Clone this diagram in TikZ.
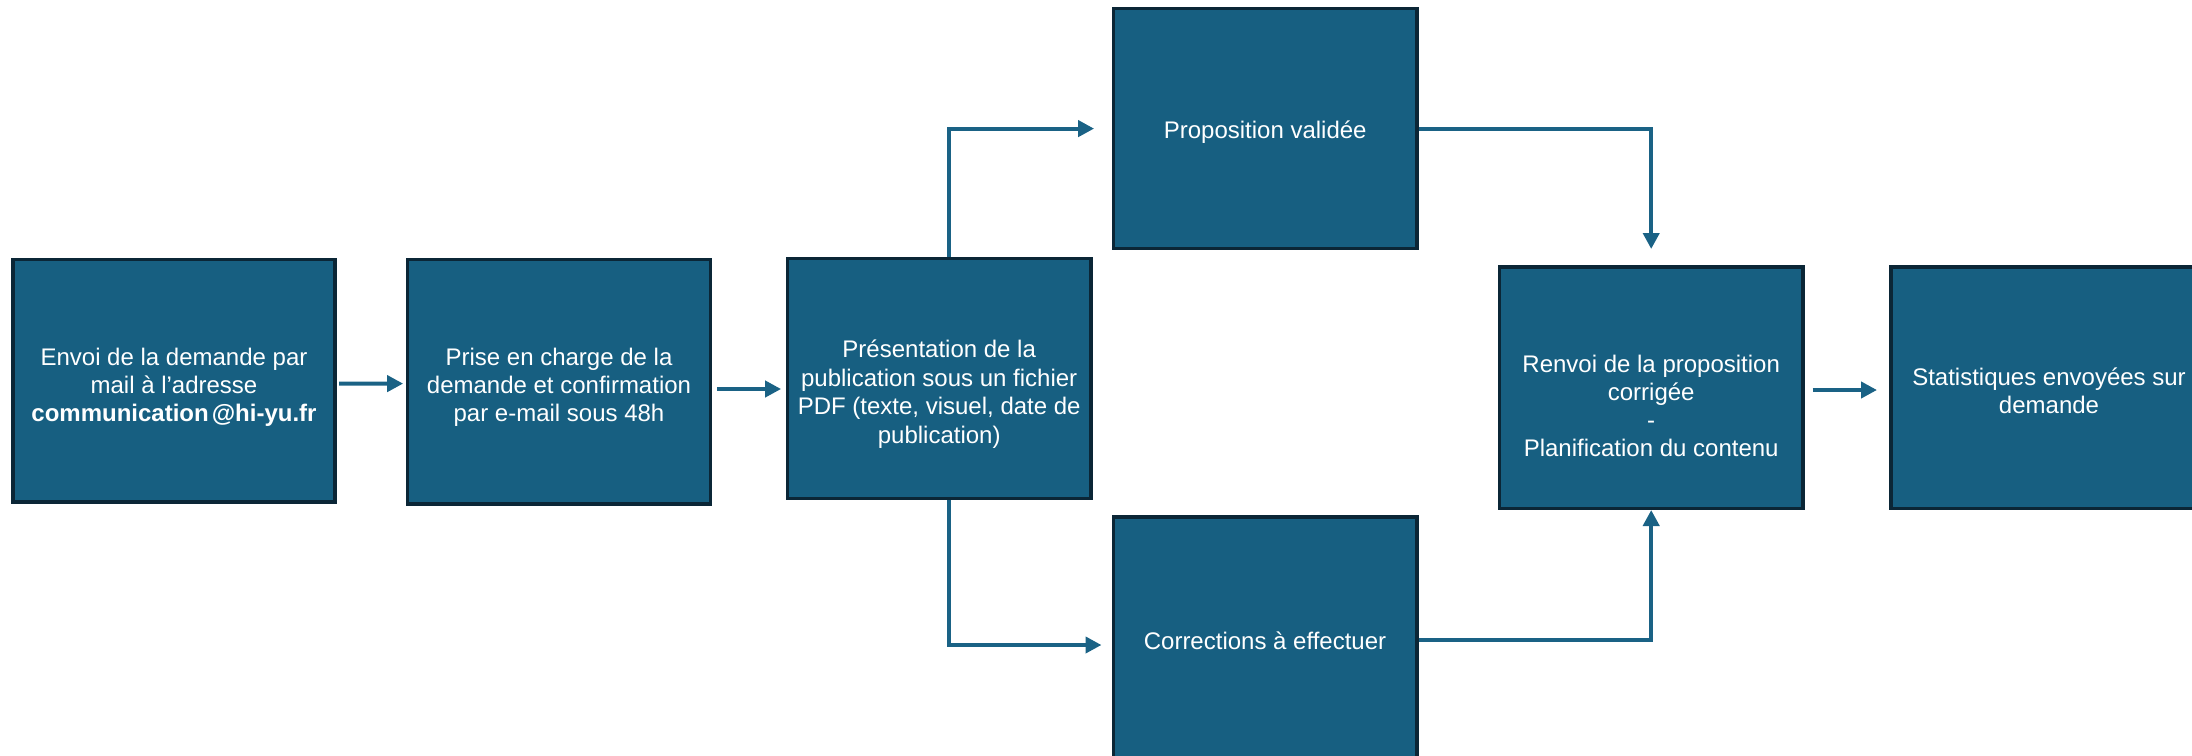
\documentclass[tikz,border=0pt]{standalone}
\usepackage{fontspec}
\setmainfont{Liberation Sans}
\usetikzlibrary{arrows.meta,calc}
\definecolor{boxfill}{RGB}{23,95,129}
\definecolor{boxline}{RGB}{11,38,54}
\definecolor{arrcol}{RGB}{26,98,133}
\begin{document}
\begin{tikzpicture}[x=1pt,y=-1pt,
  stepbox/.style={draw=boxline,fill=boxfill,line width=3.5pt,rectangle,inner sep=0pt,
    minimum width=303.5pt,minimum height=240pt},
  txt/.style={text=white,align=center,inner sep=0pt,font=\fontsize{24}{28}\selectfont},
  arr/.style={draw=arrcol,line width=4pt,-{Triangle[length=16pt,width=16pt]}}]
\useasboundingbox (0,0) rectangle (2192,755);
\clip (0,0) rectangle (2192,755);
% boxes
\node[stepbox,minimum width=322pt,minimum height=242.5pt] (b1) at (174,380.5) {};
\node[stepbox,minimum width=303pt,minimum height=244.8pt] (b2) at (559,381.7) {};
\node[stepbox] (b3) at (939.2,378.5) {};
\node[stepbox] (b4) at (1265.2,128.6) {};
\node[stepbox,minimum height=248pt] (b5) at (1265,641) {};
\node[stepbox,minimum height=241.5pt] (b6) at (1651.2,387.5) {};
\node[stepbox,minimum height=241.5pt] (b7) at (2042.5,387.5) {};
% texts
\node[txt] (t1) at (174,387) {Envoi de la demande par\\mail à l’adresse\\\textbf{communication\kern3pt@hi-yu.fr}};
\node[txt] (t2) at (559,387) {Prise en charge de la\\demande et confirmation\\par e-mail sous 48h};
\node[txt,font=\fontsize{24}{28.5}\selectfont] (t3) at (939.2,394) {Présentation de la\\publication sous un fichier\\PDF (texte, visuel, date de\\publication)};
\node[txt] (t4) at (1265.2,132) {Proposition validée};
\node[txt] (t5) at (1265,641) {Corrections à effectuer};
\node[txt] (t6) at (1651.2,406) {Renvoi de la proposition\\corrigée\\-\\Planification du contenu};
\node[txt] (t7) at (2049,390.7) {Statistiques envoyées sur\\demande};
% connectors
\draw[arr] ($(b1.east)+(2.3,3.1)$) -- ($(b2.west)+(-2.6,1.9)$);
\draw[arr] ($(b2.east)+(4.8,7.3)$) -- ($(b3.west)+(-4.6,10.5)$);
\draw[arr] ($(b3.north)+(9.8,0)$) |- ($(b4.west)+(-17.6,0)$);
\draw[arr] ($(b3.south)+(9.8,0)$) |- ($(b5.west)+(-10,4)$);
\draw[arr] (b4.east) -| ($(b6.north)+(0,-16)$);
\draw[arr] ($(b5.east)+(0,-1)$) -| (b6.south);
\draw[arr] ($(b6.east)+(8,2.5)$) -- ($(b7.west)+(-12,2.5)$);
\end{tikzpicture}
\end{document}
